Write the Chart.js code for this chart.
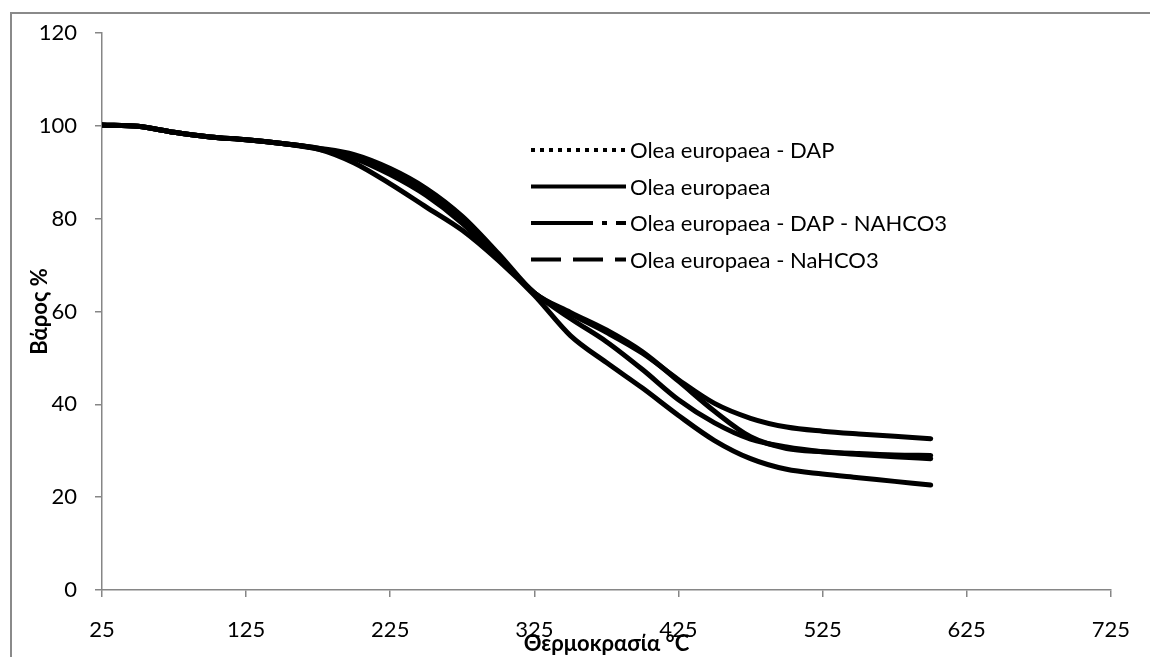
<!DOCTYPE html>
<html>
<head>
<meta charset="utf-8">
<script src="https://cdn.jsdelivr.net/npm/chart.js@4/dist/chart.umd.min.js"></script>
<style>
html, body { margin: 0; padding: 0; background: #fff; }
#wrap { width: 1150px; height: 657px; }
</style>
</head>
<body>
<div id="wrap"><canvas id="tga"></canvas></div>
<script>
// θερμοκρασία (°C)
const temps = [25, 50, 75, 100, 125, 150, 175, 200, 225, 250, 275, 300, 325, 350, 375, 400, 425, 450, 475, 500, 525, 550, 575, 600];

// βάρος % ανά δείγμα
const oleaDap   = [100.2, 99.9, 98.6, 97.6, 97.0, 96.2, 95.2, 93.8, 90.8, 86.5, 80.5, 72.5, 64.0, 59.5, 55.5, 51.0, 45.3, 40.2, 37.0, 35.1, 34.2, 33.6, 33.1, 32.6];
const olea      = [100.2, 99.9, 98.6, 97.6, 97.0, 96.2, 95.0, 92.0, 87.5, 82.5, 77.5, 71.0, 63.5, 54.8, 49.0, 43.5, 37.6, 32.2, 28.3, 26.0, 25.0, 24.2, 23.4, 22.6];
const oleaDapNa = [100.2, 99.9, 98.6, 97.6, 97.0, 96.2, 95.2, 93.3, 90.0, 85.5, 80.0, 72.0, 64.0, 59.8, 56.0, 51.3, 45.0, 38.5, 33.0, 30.5, 29.8, 29.4, 29.1, 29.0];
const oleaNa    = [100.2, 99.9, 98.6, 97.6, 97.0, 96.2, 95.0, 93.0, 89.5, 85.0, 79.0, 71.5, 64.0, 58.5, 53.5, 47.5, 41.0, 36.0, 32.5, 30.8, 29.8, 29.2, 28.7, 28.3];

const labels = ['Olea europaea - DAP', 'Olea europaea', 'Olea europaea - DAP - NAHCO3', 'Olea europaea - NaHCO3'];
const xTicks = [25, 125, 225, 325, 425, 525, 625, 725];

const series = [oleaDap, olea, oleaDapNa, oleaNa];
const dashes = [[4, 5], [], [62, 9, 5, 9], [30, 12]];

const AXIS = '#868686';
const FONT = 'Lato, "Open Sans", sans-serif';

// περίγραμμα γραφήματος (όπως στο Excel)
const frame = {
    id: 'frame',
    beforeDraw(chart) {
        const c = chart.ctx;
        c.save();
        c.strokeStyle = '#8a8a8a';
        c.lineWidth = 2;
        c.strokeRect(11, 13, 1200, 700);
        c.restore();
    }
};

// υπόμνημα μέσα στην περιοχή σχεδίασης
const insideLegend = {
    id: 'insideLegend',
    afterDraw(chart) {
        const c = chart.ctx;
        c.save();
        c.font = '22px ' + FONT;
        c.fillStyle = '#000';
        c.textBaseline = 'middle';
        chart.data.datasets.forEach((ds, i) => {
            const y = 150 + i * 36.5;
            c.beginPath();
            c.strokeStyle = '#000';
            c.lineWidth = 4;
            c.lineCap = 'butt';
            c.setLineDash(dashes[i]);
            c.moveTo(531, y);
            c.lineTo(626, y);
            c.stroke();
            c.setLineDash([]);
            c.fillText(ds.label, 630, y + 1);
        });
        c.restore();
    }
};

new Chart(document.getElementById('tga'), {
    type: 'line',
    data: {
        labels: temps,
        datasets: series.map((s, i) => ({
            label: labels[i],
            data: s.map((v, j) => ({ x: temps[j], y: v })),
            borderColor: '#000',
            borderWidth: 5,
            borderCapStyle: 'round',
            borderJoinStyle: 'round',
            pointRadius: 0,
            cubicInterpolationMode: 'monotone',
            fill: false
        }))
    },
    options: {
        responsive: true,
        maintainAspectRatio: false,
        animation: false,
        layout: { padding: { top: 33, right: 24, bottom: 0, left: 0 } },
        plugins: {
            legend: { display: false },
            tooltip: { enabled: false }
        },
        scales: {
            x: {
                type: 'linear',
                min: 25,
                max: 725,
                afterBuildTicks: s => { s.ticks = xTicks.map(v => ({ value: v })); },
                afterFit: s => { s.height = 67; },
                ticks: { color: '#000', font: { family: FONT, size: 22 }, padding: 20, maxRotation: 0, autoSkip: false },
                grid: { drawOnChartArea: false, drawTicks: true, tickLength: 7, color: AXIS, lineWidth: 1.5 },
                border: { color: AXIS, width: 1.5 },
                title: {
                    display: true,
                    text: 'Θερμοκρασία °C',
                    color: '#000',
                    font: { family: FONT, size: 22, weight: 'bold' },
                    padding: { top: 0, bottom: 0 }
                }
            },
            y: {
                min: 0,
                max: 120,
                ticks: { stepSize: 20, color: '#000', font: { family: FONT, size: 22 }, padding: 18 },
                afterFit: s => { s.width = 102; },
                grid: { drawOnChartArea: false, drawTicks: true, tickLength: 7, color: AXIS, lineWidth: 1.5 },
                border: { color: AXIS, width: 1.5 },
                title: {
                    display: true,
                    text: 'Βάρος %',
                    color: '#000',
                    font: { family: FONT, size: 22, weight: 'bold' },
                    padding: { top: 27, bottom: 0 }
                }
            }
        }
    },
    plugins: [frame, insideLegend]
});
</script>
</body>
</html>
